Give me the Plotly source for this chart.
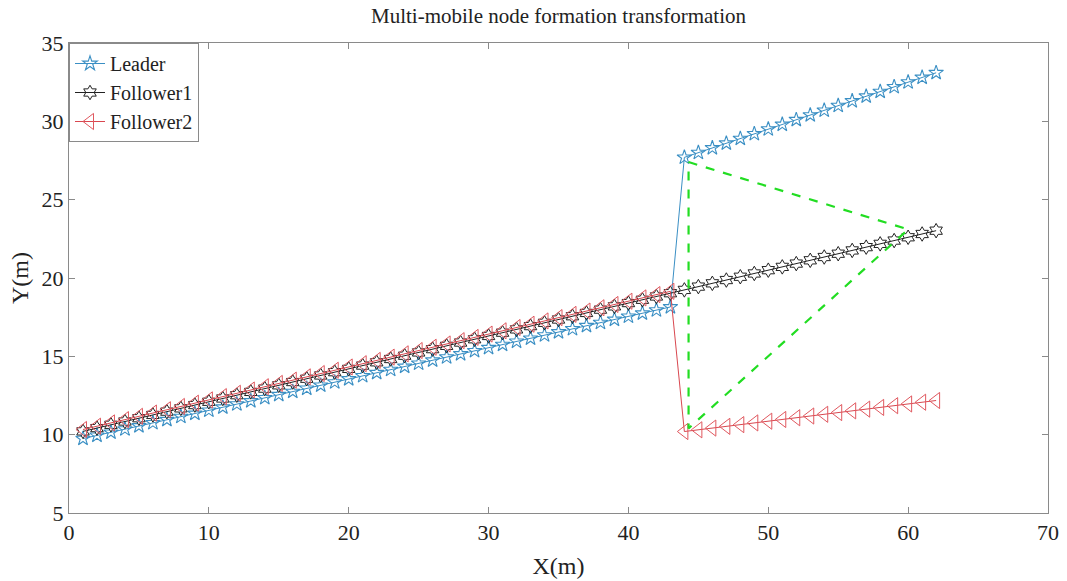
import plotly.graph_objects as go

# ---- data ----
leader_x = list(range(1, 63))
leader_y = [9.75, 9.95, 10.15, 10.35, 10.55, 10.75, 10.95, 11.15, 11.35, 11.55,
            11.75, 11.95, 12.15, 12.35, 12.55, 12.75, 12.95, 13.15, 13.35, 13.55,
            13.75, 13.95, 14.15, 14.35, 14.55, 14.75, 14.95, 15.15, 15.35, 15.55,
            15.75, 15.95, 16.15, 16.35, 16.55, 16.75, 16.95, 17.15, 17.35, 17.55,
            17.75, 17.95, 18.15,
            27.7, 28.0, 28.3, 28.6, 28.9, 29.2, 29.5, 29.8, 30.1, 30.4,
            30.7, 31.0, 31.3, 31.6, 31.9, 32.2, 32.5, 32.8, 33.1]

follower1_x = list(range(1, 63))
follower1_y = [10.21, 10.42, 10.63, 10.84, 11.05, 11.26, 11.47, 11.68, 11.89, 12.10,
               12.31, 12.52, 12.73, 12.94, 13.15, 13.36, 13.57, 13.78, 13.99, 14.20,
               14.41, 14.62, 14.83, 15.04, 15.25, 15.46, 15.67, 15.88, 16.09, 16.30,
               16.51, 16.72, 16.93, 17.14, 17.35, 17.56, 17.77, 17.98, 18.19, 18.40,
               18.61, 18.82, 19.03, 19.24, 19.45, 19.66, 19.87, 20.08, 20.29, 20.50,
               20.71, 20.92, 21.13, 21.34, 21.55, 21.76, 21.97, 22.18, 22.39, 22.60,
               22.81, 23.02]

follower2_x = list(range(1, 63))
follower2_y = [10.33, 10.54, 10.75, 10.96, 11.17, 11.38, 11.59, 11.80, 12.01, 12.22,
               12.43, 12.64, 12.85, 13.06, 13.27, 13.48, 13.69, 13.90, 14.11, 14.32,
               14.53, 14.74, 14.95, 15.16, 15.37, 15.58, 15.79, 16.00, 16.21, 16.42,
               16.63, 16.84, 17.05, 17.26, 17.47, 17.68, 17.89, 18.10, 18.31, 18.52,
               18.73, 18.94, 19.15,
               10.20, 10.31, 10.42, 10.53, 10.64, 10.75, 10.86, 10.97, 11.08, 11.19,
               11.30, 11.41, 11.52, 11.63, 11.74, 11.85, 11.96, 12.07, 12.18]

# formation triangle (closed)
formation_x = [44.3, 60.0, 44.3, 44.3]
formation_y = [27.4, 23.1, 10.4, 27.4]

x_ticks = [0, 10, 20, 30, 40, 50, 60, 70]
y_ticks = [5, 10, 15, 20, 25, 30, 35]

FONT = "Liberation Serif"
AXIS_GRAY = "#8a8a8a"
TEXT = "#222222"

fig = go.Figure()
fig.add_trace(go.Scatter(
    x=leader_x, y=leader_y, name="Leader", mode="lines+markers",
    line=dict(color="#3a8fc4", width=1),
    marker=dict(symbol="star-open", size=11, color="#3a8fc4", line=dict(width=1.1)),
))
fig.add_trace(go.Scatter(
    x=follower1_x, y=follower1_y, name="Follower1", mode="lines+markers",
    line=dict(color="#222222", width=1),
    marker=dict(symbol="hexagram-open", size=11, color="#222222", line=dict(width=1)),
))
fig.add_trace(go.Scatter(
    x=follower2_x, y=follower2_y, name="Follower2", mode="lines+markers",
    line=dict(color="#d9474f", width=1),
    marker=dict(symbol="triangle-left-open", size=14, color="#e0585f", line=dict(width=1)),
))
fig.add_trace(go.Scatter(
    x=formation_x, y=formation_y, mode="lines", showlegend=False,
    line=dict(color="#22dd22", width=2.2, dash="dash"),
))

axis_common = dict(
    showgrid=False, zeroline=False, showline=True, mirror="ticks",
    linecolor=AXIS_GRAY, linewidth=1, ticks="inside", ticklen=6,
    tickcolor=AXIS_GRAY, tickfont=dict(family=FONT, size=22, color=TEXT),
)

fig.update_layout(
    width=1067, height=581,
    paper_bgcolor="white", plot_bgcolor="white",
    margin=dict(l=69, r=19, t=43, b=68, autoexpand=False),
    title=dict(text="Multi-mobile node formation transformation",
               font=dict(family=FONT, size=21, color=TEXT),
               x=0.5, xref="paper", y=1 - 16 / 581, yref="container",
               yanchor="middle", xanchor="center"),
    xaxis=dict(range=[0, 70], tickvals=x_ticks, **axis_common,
               title=dict(text="X(m)", font=dict(family=FONT, size=24, color=TEXT),
                          standoff=12)),
    yaxis=dict(range=[5, 35], tickvals=y_ticks, **axis_common,
               title=dict(text="Y(m)", font=dict(family=FONT, size=24, color=TEXT),
                          standoff=6)),
    legend=dict(x=0, y=1, xanchor="left", yanchor="top",
                bgcolor="white", bordercolor=AXIS_GRAY, borderwidth=1,
                font=dict(family=FONT, size=20, color=TEXT),
                itemwidth=30, tracegroupgap=0),
    showlegend=True,
)

fig.write_html("out.html", config={"displayModeBar": False},
               post_script="document.body.style.margin='0';document.body.style.overflow='hidden';")
